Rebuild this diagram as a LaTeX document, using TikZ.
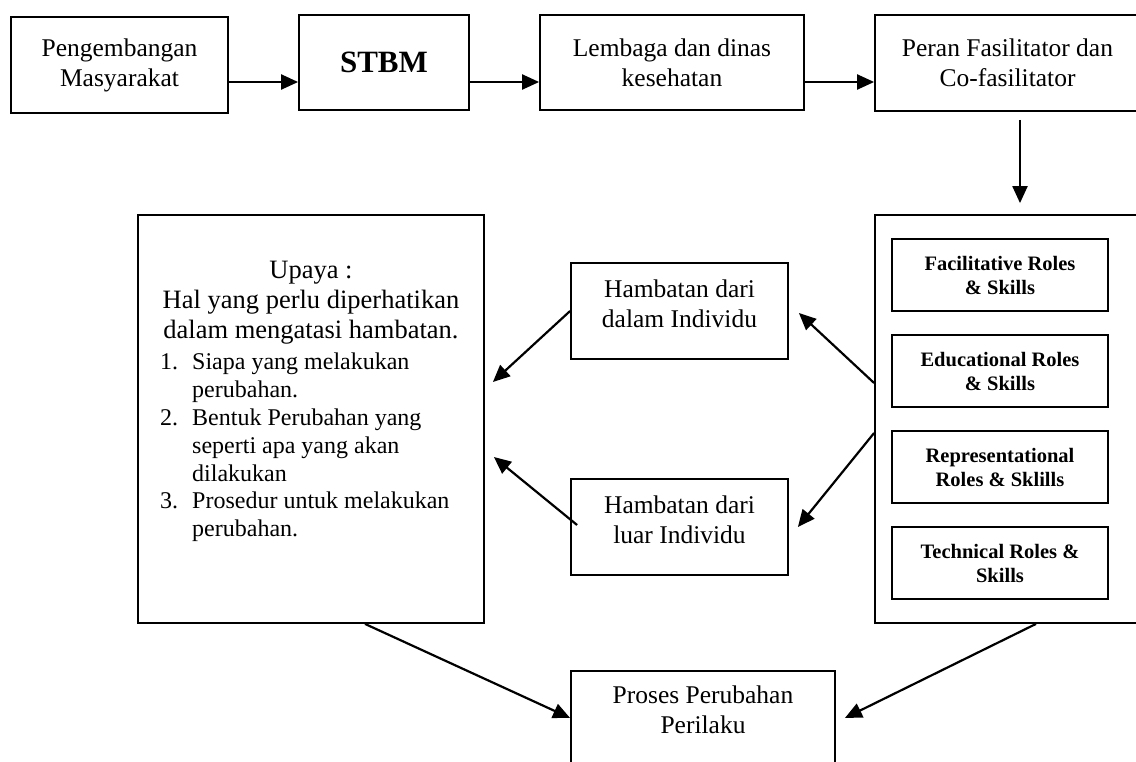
\documentclass[tikz,border=0pt]{standalone}
\usepackage{fontspec}
\setmainfont{Liberation Serif}
\usetikzlibrary{arrows.meta}

\begin{document}
\begin{tikzpicture}
[x=1pt,y=-1pt,
  boxDecorate/.style={shape=rectangle,draw,line width=1.8pt,inner sep=0pt,align=center,
    font=\fontsize{25.5}{30}\selectfont},%
  roleDecorate/.style={boxDecorate,minimum width=216pt,minimum height=72pt,
    font=\fontsize{20.5}{24}\selectfont\bfseries},%
  arrowDecorate/.style={-{Triangle[length=17pt,width=15pt]},line width=2.2pt}]
\fill[white] (0,0) rectangle (1136,761);
\useasboundingbox (0,0) rectangle (1136,761);
%% top row
\node (pm) at (119.5,65) [boxDecorate,minimum width=217pt,minimum height=96pt]
  {Pengembangan\\Masyarakat};
\node (stbm) at (384,62.5) [boxDecorate,minimum width=170pt,minimum height=95pt,
  font=\fontsize{31}{36}\selectfont\bfseries] {STBM};
\node (lem) at (672,62.5) [boxDecorate,minimum width=264pt,minimum height=95pt]
  {Lembaga dan dinas\\kesehatan};
\node (peran) at (1007.5,63) [boxDecorate,minimum width=265pt,minimum height=96pt]
  {Peran Fasilitator dan\\Co-fasilitator};
\coordinate (arrowrow) at (0,82);
%% middle
\node (upaya) at (311,419) [boxDecorate,minimum width=346pt,minimum height=408pt] {};
\node (upayahead) at (311,261) [anchor=north,inner sep=0pt,align=center,
  font=\fontsize{26.5}{30}\selectfont]
  {Upaya :\\Hal yang perlu diperhatikan\\dalam mengatasi hambatan.};
\node (upayalist) at (160,353) [anchor=north west,inner sep=0pt,align=left,
  font=\fontsize{24}{27.8}\selectfont]
  {\makebox[32pt][l]{1.}Siapa yang melakukan\\
   \hspace*{32pt}perubahan.\\
   \makebox[32pt][l]{2.}Bentuk Perubahan yang\\
   \hspace*{32pt}seperti apa yang akan\\
   \hspace*{32pt}dilakukan\\
   \makebox[32pt][l]{3.}Prosedur untuk melakukan\\
   \hspace*{32pt}perubahan.};
\node (dalam) at (679.5,311) [boxDecorate,minimum width=217pt,minimum height=96pt]
  {Hambatan dari\\dalam Individu\\[-16pt]\mbox{}};
\node (luar) at (679.5,527) [boxDecorate,minimum width=217pt,minimum height=96pt]
  {Hambatan dari\\luar Individu\\[-16pt]\mbox{}};
\node (roles) at (1007.5,419) [boxDecorate,minimum width=265pt,minimum height=408pt] {};
\foreach \nodename/\y/\txt in {
  fac/275/{Facilitative Roles\\\& Skills},
  edu/371/{Educational Roles\\\& Skills},
  rep/467/{Representational\\Roles \& Sklills},
  tec/563/{Technical Roles \&\\Skills}}
{
  \node (\nodename) at (1000,\y) [roleDecorate] {\txt};
}
%% bottom
\node (proses) at (703,725) [boxDecorate,minimum width=264pt,minimum height=108pt]
  {Proses Perubahan\\Perilaku\\\mbox{}};
%% arrows
\foreach \startnode/\endnode in {pm/stbm, stbm/lem, lem/peran}
{
  \draw[arrowDecorate] (\startnode.east |- arrowrow) -- (\endnode.west |- arrowrow);
}
\draw[arrowDecorate,shorten <=8pt,shorten >=11pt]
  ([xshift=12.5pt]peran.south) -- ([xshift=12.5pt]roles.north);
\draw[arrowDecorate] ([yshift=36pt]roles.west) -- ([xshift=10pt,yshift=-2pt]dalam.east);
\draw[arrowDecorate] ([yshift=-14pt]roles.west) -- ([xshift=9pt]luar.east);
\draw[arrowDecorate] (dalam.west) -- ([xshift=8pt,yshift=37pt]upaya.east);
\draw[arrowDecorate] ([xshift=7pt,yshift=2pt]luar.west) -- ([xshift=9pt,yshift=-38pt]upaya.east);
\draw[arrowDecorate] ([xshift=54pt]upaya.south) -- ([yshift=7pt]proses.west);
\draw[arrowDecorate] ([xshift=28.5pt]roles.south) -- ([xshift=9pt,yshift=7pt]proses.east);
\end{tikzpicture}
\end{document}
